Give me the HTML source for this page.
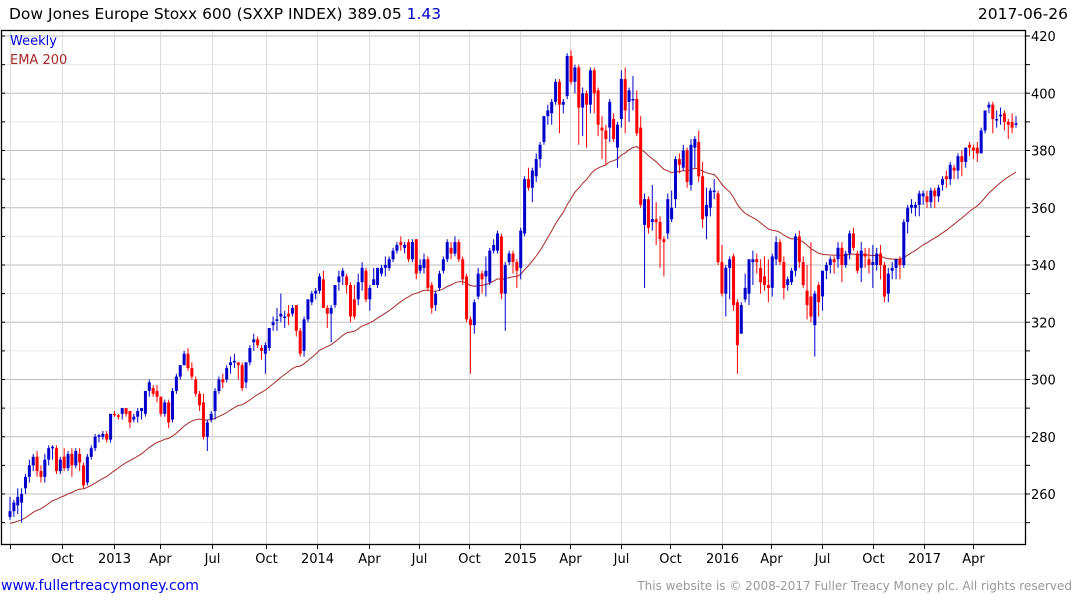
<!DOCTYPE html>
<html><head><meta charset="utf-8"><style>
body{margin:0;background:#fff;width:1075px;height:600px;overflow:hidden;font-family:"DejaVu Sans","Liberation Sans",sans-serif}
svg{display:block}
</style></head><body>
<svg id="chart" width="1075" height="600" xmlns="http://www.w3.org/2000/svg">
<g id="grid"></g>
<g id="ema"></g>
<g id="candles"></g>
<g id="axes"></g>
<text x="9" y="19" font-size="15.5" fill="#000">Dow Jones Europe Stoxx 600 (SXXP INDEX) 389.05 <tspan fill="#0000cc">1.43</tspan></text>
<text x="1068" y="19" font-size="15.5" text-anchor="end" fill="#000">2017-06-26</text>
<text x="10" y="45" font-size="13" fill="#0000dd">Weekly</text>
<text x="10" y="64" font-size="13" fill="#a52a2a">EMA 200</text>
<text x="1" y="590" font-size="14" fill="#0000ee">www.fullertreacymoney.com</text>
<text x="1072" y="590" font-size="12" text-anchor="end" fill="#999">This website is © 2008-2017 Fuller Treacy Money plc. All rights reserved</text>
</svg>
<script>
const opens=[252,254,256,257,262,266,270,273,268,266,272,276,276,268,273,269,274,270,274,270,264,273,276,280,280,281,279,288,287.5,288,290,289,286,287,289,288,296,297,296,294,288,292,286,296,301,305,309,304,300,295,292,280,286,289,296,300,300,305,306,306,305,299,306,313,314,311,309,311,319,320.5,322,322,323,323,326,317,310,321,327,330,331,335,325,323,326,334,336,336,333,328,328,334,338,328,333,333,337,339,339,342,345,348,346,348,342,349,338,339,342,333,326,332,338,342,346,344,348,342,336,321,319,329,337,336,334,345,345,350,330,341,344,341,339,351,370,367,371,377,383,392,393,397,404,396,399,413,404,409,395,400,396,408,401,388,387,388,391,381,391,405,397,398,398,388,354,363,355,356,355,349,351,356,363,377,374,380,368,381,383,371,357,360,366,365,341,330,339,343,327,316,328,330,341,342,339,336,333,332,342,348,341,333,334,338,350,341,331,329,319,333,329,338,340,342,342,346,340,344,351,344,339,344,342,340,340,344,340,330,338,339,342,340,355,360,360,361,364,364,362,366,364,368,371,370,374,373,378,376,382,381,381,379,387,395,396,391,392,393,390,390,389];
const closes=[254,257,259,260,266,270,273,268,266,272,276,276.5,268,272,269,274,270,275,271,263,273,276,280,280.5,281,279,288,287.5,287,290,288,285,287,289,290,296,299,295,294,288,292,285,296,301,305,309,304,301,295,291,280,285,288,296,300,299,304,306,306.5,305,297,306,311,314,312,310,312,318,320,321,323,322,322,325,317,309,321,328,330,331,336,325,323,325,333,336,338,333,322,322,334,339,328,332,335,339,339,340,342,345,347,347,347,342,348,337,340,342,332,325,330,337,342,348,344,348,342,335,321,319,327,337,335,338,345,347,351,330,340,344,341,338,352,370,367,373,377,382,392,394,397,404,396,397,413,404,409,395,400,396,408,400,389,387,384,397,384,389,405,394,401,398,386,361,363,353,356,355,349,348,363,360,377,375,380,369,382,384,371,356,361,366,366,341,330,339,342,326,312,326,332,342,342,341,334,333,332,343,348,341,332,335,338,350,341,333,326,322,330,327,338,340,342,341,346,340,344,351,346,338,345,343,340,341,344,340,329,337,339,342,340,355,360,361,361,365,365,362,366,364,367,370,370,375,373,378,376,381,381,380,379,387,394,396,391,391,392.5,390,389,388,389.5];
const highs=[259,258,262,262,267,272,274,275,270,274,277,277,277,273,276,275,276,276,276,271,274,277,281,281,282,282,288,289,288,290,290,289,288,290,290,296,300,298,298,294,293,293,297,302,305,310,311,306,301,296,295,286,289,297,301,302,305,308,309,306,306,306,312,316,315,312,313,318,322,325,330,324,326,326,326,318,322,328,331,332,337,338,326,326,333,338,339,337,334,333,337,341,339,333,339,339,340,343,343,346,348,350,348,349,349,349,342,344,343,334,331,338,343,349,348,350,349,343,337,322,328,339,338,343,346,349,352,351,341,345,345,342,353,371,374,374,379,383,392,396,398,405,405,398,414,415,410,410,402,401,409,409,402,392,389,398,393,390,408,409,402,406,401,392,365,364,368,362,357,350,365,366,378,379,382,381,384,385,387,376,367,367,370,366,347,340,343,344,328,327,337,342,345,344,342,343,342,344,350,349,343,336,339,351,352,343,340,348,331,334,338,341,343,343,348,348,345,352,353,345,348,346,346,347,346,347,341,339,341,342,343,356,361,363,362,366,366,366,367,367,368,371,373,376,375,379,380,381,383,382,383,388,394,397,397,394,395,394,391,393,392];
const lows=[251,252,253,250,260,264,268,266,264,264,270,272,267,267,268,268,266,269,268,262,263,272,275,278,279,278,278,287,286,286,287,283,285,285,286,287,294,294,292,287,287,283,285,295,300,305,303,300,294,289,279,275,285,286,295,297,299,302,304,300,296,297,305,310,311,307,302,310,317,317,320,318,319,322,315,308,308,320,326,328,330,325,318,313,325,331,333,330,320,321,326,331,327,324,333,332,336,336,338,341,344,345,344,341,341,335,337,337,331,323,324,331,337,341,342,343,341,333,320,302,316,328,330,329,333,344,344,328,317,340,337,332,335,350,366,362,369,374,382,389,389,396,386,393,398,403,400,382,385,381,393,393,385,377,375,383,383,374,388,386,390,394,385,360,332,351,352,347,339,336,349,355,360,372,373,367,366,374,369,353,349,357,363,340,329,322,328,324,302,316,327,326,333,337,330,331,327,329,340,340,328,331,333,336,339,332,321,320,308,322,324,335,337,337,339,334,339,342,345,337,334,339,337,332,338,335,327,327,335,335,335,339,351,358,357,357,361,360,360,360,362,366,367,368,370,370,371,374,378,377,376,379,386,393,386,388,389,387,384,386,388];
const yTicks=[260,280,300,320,340,360,380,400,420];
const xTickLabels=["","Oct","2013","Apr","Jul","Oct","2014","Apr","Jul","Oct","2015","Apr","Jul","Oct","2016","Apr","Jul","Oct","2017","Apr"];
const xTickWeeks=[0,13.4,26.9,38.8,52.2,66.1,79.3,92.8,105.7,118.6,131.8,144.7,157.9,170.5,184,196.6,209.8,223,236.2,248.8];

const NS="http://www.w3.org/2000/svg";
const L=1,R=1026,T=30,B=544;
const N=closes.length;
function xs(i){return 10+i*(1016-10)/(N-1);}
function ys(v){return 36+(420-v)*(494-36)/160;}
function mk(tag,attrs,parent){const e=document.createElementNS(NS,tag);for(const k in attrs)e.setAttribute(k,attrs[k]);parent.appendChild(e);return e;}
const grid=document.getElementById('grid'),axes=document.getElementById('axes'),cg=document.getElementById('candles'),eg=document.getElementById('ema');
for(let v=250;v<=420;v+=10){const y=ys(v);const major=(v%20===0);
 const g=mk('line',{x1:L,x2:R,y1:y,y2:y,stroke:major?'#bdbdbd':'#e6e6e6','stroke-width':1},grid);
 
 
 const t=mk('line',{x1:R,x2:R+4,y1:y,y2:y,stroke:'#000'},axes);
 
 
 const t2=mk('line',{x1:L,x2:L+4,y1:y,y2:y,stroke:'#000'},axes);
 
 
}
yTicks.forEach(v=>{const t=mk('text',{x:R+5,y:ys(v)+5,'font-size':13,fill:'#000'},axes);t.textContent=v;
 
 });
xTickWeeks.forEach((w,k)=>{const x=Math.round(xs(w))+0.5;
 const g=mk('line',{x1:x,x2:x,y1:T,y2:B,stroke:'#dcdcdc'},grid);
 
 
 const t=mk('line',{x1:x,x2:x,y1:B,y2:B+5,stroke:'#000'},axes);
 
 
 if(xTickLabels[k]){const tx=mk('text',{x:x,y:563,'font-size':13,'text-anchor':'middle',fill:'#000'},axes);tx.textContent=xTickLabels[k];
 
 }
});
const fr=mk('rect',{x:L+0.5,y:T+0.5,width:R-L-1,height:B-T,fill:'none',stroke:'#000','stroke-width':1.3},axes);


let e=249.5,pts=[];const a=2/41;
for(let i=0;i<N;i++){e=e+a*(closes[i]-e);pts.push(xs(i).toFixed(1)+','+ys(e).toFixed(1));}
const pl=mk('polyline',{points:pts.join(' '),fill:'none',stroke:'#a52a2a','stroke-width':1},eg);


for(let i=0;i<N;i++){const up=closes[i]>=opens[i];const col=up?'#0000cc':'#ff0000';const x=xs(i);
 const w=mk('line',{x1:x,x2:x,y1:ys(highs[i]),y2:ys(lows[i]),stroke:col,'stroke-width':1},cg);
 
 
 const y1=ys(Math.max(opens[i],closes[i])),y2=ys(Math.min(opens[i],closes[i]));
 const b=mk('rect',{x:x-1.5,y:y1,width:3,height:Math.max(1.5,y2-y1),fill:col},cg);
 
 
}
</script>
</body></html>
